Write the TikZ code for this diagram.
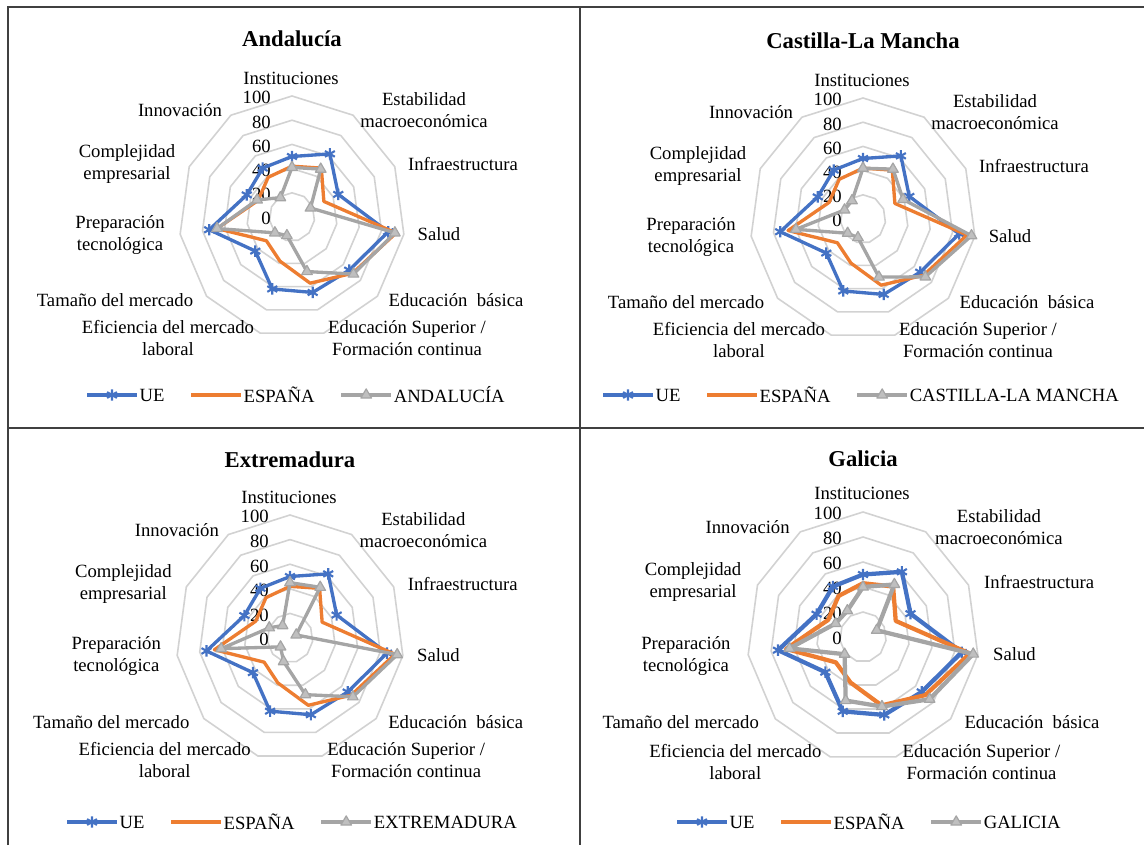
\documentclass[tikz,border=0pt]{standalone}
\usepackage{fontspec}
\setmainfont{Liberation Serif}
\usetikzlibrary{positioning,plotmarks}

\begin{document}
\begin{tikzpicture}[x=0.75pt,y=0.75pt,yscale=-1,xscale=1,
  panelframe/.style={draw={rgb, 255:red, 64; green, 64; blue, 64}, line width=1.5pt},
  gridring/.style={draw={rgb, 255:red, 210; green, 210; blue, 210}, line width=1.2pt},
  ueline/.style={draw={rgb, 255:red, 68; green, 114; blue, 196}, line width=2.5pt, line join=round, mark=asterisk, mark size=4.3pt, mark options={solid, line width=1.6pt}},
  esline/.style={draw={rgb, 255:red, 237; green, 125; blue, 49}, line width=2.5pt, line join=round},
  regline/.style={draw={rgb, 255:red, 165; green, 165; blue, 165}, line width=2.5pt, line join=round, mark=triangle*, mark size=4.6pt, mark options={solid, yscale=-1, line width=0.9pt, fill={rgb, 255:red, 191; green, 191; blue, 191}}},
  axlabel/.style={font=\fontsize{14}{16.5}\selectfont, align=center, inner sep=0.75pt},
  vallabel/.style={font=\fontsize{14}{16.5}\selectfont, anchor=east, inner sep=0.75pt},
  paneltitle/.style={font=\fontsize{17}{20}\selectfont\bfseries, inner sep=0.75pt},
  legtext/.style={font=\fontsize{14}{16.5}\selectfont, inner sep=0.75pt}]
\useasboundingbox (0,0) rectangle (1144,845);

%Frame
\draw[panelframe] (7.5,845) -- (7.5,7.5) -- (1144,7.5) ;
\draw[panelframe] (580,7.5) -- (580,845) ;
\draw[panelframe] (7.5,428) -- (1144,428) ;

%Panels: grid, texts and legend
\foreach \cx/\cy/\sx/\sy/\ls/\lx/\ly/\lw/\ttl/\reg in {
  292/217/0.8475pt/0.9075pt/1/-205/178/2.5pt/Andalucía/ANDALUCÍA,
  863/219/0.8475pt/0.9075pt/1/-260/176/2.5pt/Castilla-La Mancha/CASTILLA-LA MANCHA,
  290/638/0.855pt/0.9225pt/1.01/-223/184/2.5pt/Extremadura/EXTREMADURA,
  863/637/0.87pt/0.9375pt/1.03/-186/185/3.2pt/Galicia/GALICIA}{
  % rings and values
  \begin{scope}[shift={(\cx,\cy)},x=\sx,y=\sy]
    \foreach \r in {20,40,...,100}
      \draw[gridring] (-90:\r) \foreach \k in {1,...,10} {-- ({-90+\k*360/11}:\r)} -- cycle ;
    \foreach \v in {0,20,...,100}
      \node[vallabel] (v\v) at ([xshift=-15pt]0,{1.5-\v}) {\v};
  \end{scope}
  % axis labels
  \begin{scope}[shift={(\cx,\cy)},scale=\ls]
    \node[axlabel] (inst) at (-1,-139) {Instituciones};
    \node[axlabel] (estab) at (132,-107) {Estabilidad\\macroeconómica};
    \node[axlabel] (infra) at (171,-53) {Infraestructura};
    \node[axlabel] (salud) at (147,17) {Salud};
    \node[axlabel] (edub) at (164,83) {Educación\ \ básica};
    \node[axlabel] (edus) at (115,121) {Educación Superior /\\Formación continua};
    \node[axlabel] (efic) at (-124,121) {Eficiencia del mercado\\laboral};
    \node[axlabel] (tam) at (-177,83) {Tamaño del mercado};
    \node[axlabel] (prep) at (-172,18) {Preparación\\tecnológica};
    \node[axlabel] (compl) at (-165,-53) {Complejidad\\empresarial};
    \node[axlabel] (innov) at (-112,-107) {Innovación};
  \end{scope}
  % title and legend
  \begin{scope}[shift={(\cx,\cy)}]
    \node[paneltitle] (title) at (0,-178) {\ttl};
    \coordinate (ua) at (\lx,\ly);
    \coordinate (ub) at ([xshift=37.5pt]ua);
    \node[legtext, right=1pt of ub] (uet) {UE};
    \coordinate[right=19pt of uet] (ea);
    \coordinate (eb) at ([xshift=37.5pt]ea);
    \node[legtext, right=1pt of eb] (est) {ESPAÑA};
    \coordinate[right=19pt of est] (ra);
    \coordinate (rb) at ([xshift=37.5pt]ra);
    \node[legtext, right=1pt of rb] (regt) {\reg};
    \draw[ueline, line width=\lw] (ua) -- (ub) plot coordinates {([xshift=18.75pt]ua)};
    \draw[esline, line width=\lw] (ea) -- (eb);
    \draw[regline, line width=\lw] (ra) -- (rb) plot coordinates {([xshift=18.75pt]ra)};
  \end{scope}
}

%Andalucía data
\begin{scope}[shift={(292,217)},x=0.8475pt,y=0.9075pt]
\draw[ueline] plot coordinates {(-90:50) (-57.27:62) (-24.55:45) (8.18:86) (40.91:67) (73.64:65) (106.36:62) (139.09:43) (171.82:74) (204.55:44) (237.27:48)} -- cycle ;
\draw[esline] plot coordinates {(-90:42) (-57.27:48) (-24.55:31) (8.18:93) (40.91:71) (73.64:57) (106.36:38) (139.09:30) (171.82:67) (204.55:33) (237.27:39)} -- cycle ;
\draw[regline] plot coordinates {(-90:41) (-57.27:47) (-24.55:18) (8.18:92) (40.91:72) (73.64:47) (106.36:16) (139.09:20) (171.82:67) (204.55:34) (237.27:19)} -- cycle ;
\end{scope}

%Castilla-La Mancha data
\begin{scope}[shift={(863,219)},x=0.8475pt,y=0.9075pt]
\draw[ueline] plot coordinates {(-90:50) (-57.27:62) (-24.55:45) (8.18:86) (40.91:67) (73.64:65) (106.36:62) (139.09:43) (171.82:74) (204.55:44) (237.27:48)} -- cycle ;
\draw[esline] plot coordinates {(-90:42) (-57.27:48) (-24.55:31) (8.18:93) (40.91:71) (73.64:57) (106.36:38) (139.09:30) (171.82:67) (204.55:33) (237.27:39)} -- cycle ;
\draw[regline] plot coordinates {(-90:42) (-57.27:49) (-24.55:39) (8.18:97) (40.91:73) (73.64:50) (106.36:16) (139.09:18) (171.82:60) (204.55:18) (237.27:18)} -- cycle ;
\end{scope}

%Extremadura data
\begin{scope}[shift={(290,638)},x=0.855pt,y=0.9225pt]
\draw[ueline] plot coordinates {(-90:50) (-57.27:62) (-24.55:45) (8.18:86) (40.91:67) (73.64:65) (106.36:62) (139.09:43) (171.82:74) (204.55:44) (237.27:48)} -- cycle ;
\draw[esline] plot coordinates {(-90:42) (-57.27:48) (-24.55:31) (8.18:93) (40.91:71) (73.64:57) (106.36:38) (139.09:30) (171.82:67) (204.55:33) (237.27:39)} -- cycle ;
\draw[regline] plot coordinates {(-90:45) (-57.27:49) (-24.55:6) (8.18:95) (40.91:73) (73.64:48) (106.36:20) (139.09:11) (171.82:61) (204.55:20) (237.27:12)} -- cycle ;
\end{scope}

%Galicia data
\begin{scope}[shift={(863,637)},x=0.87pt,y=0.9375pt]
\draw[ueline, line width=3.2pt] plot coordinates {(-90:50) (-57.27:62) (-24.55:45) (8.18:86) (40.91:67) (73.64:65) (106.36:62) (139.09:43) (171.82:74) (204.55:44) (237.27:48)} -- cycle ;
\draw[esline, line width=3.2pt] plot coordinates {(-90:43) (-57.27:48) (-24.55:31) (8.18:93) (40.91:71) (73.64:57) (106.36:38) (139.09:31) (171.82:67) (204.55:33) (237.27:39)} -- cycle ;
\draw[regline, line width=3.2pt] plot coordinates {(-90:40) (-57.27:50) (-24.55:13) (8.18:96) (40.91:76) (73.64:58) (106.36:53) (139.09:21) (171.82:64) (204.55:26) (237.27:25)} -- cycle ;
\end{scope}

\end{tikzpicture}
\end{document}
